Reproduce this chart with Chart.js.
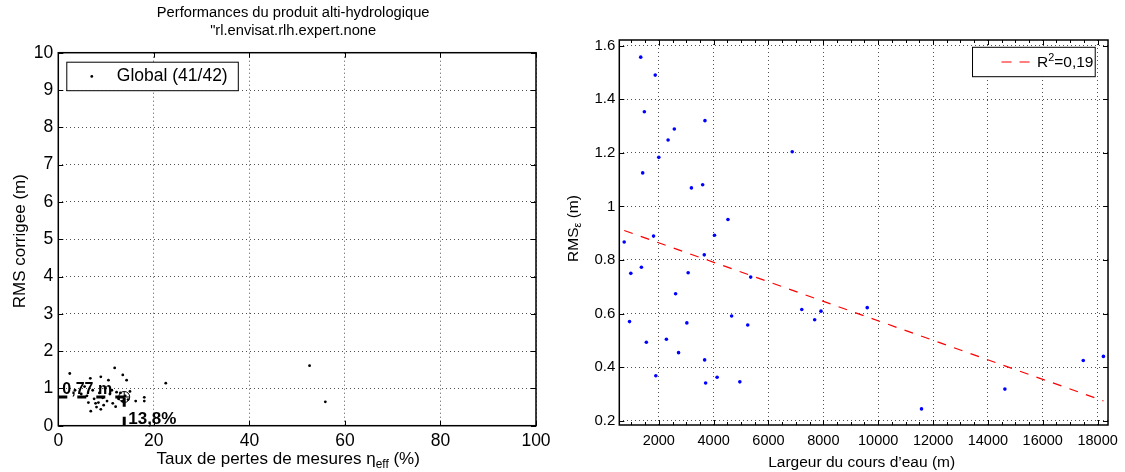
<!DOCTYPE html>
<html><head><meta charset="utf-8">
<script src="https://cdn.jsdelivr.net/npm/chart.js@4.4.0/dist/chart.umd.min.js"></script>
<style>
html,body{margin:0;padding:0;background:#fff;}
#wrap{position:relative;width:1125px;height:472px;overflow:hidden;background:#fff;}
#c1{position:absolute;left:0;top:0;}
#c2{position:absolute;left:560px;top:0;}
</style></head><body>
<div id="wrap">
<canvas id="c1" width="560" height="472" style="width:560px;height:472px"></canvas>
<canvas id="c2" width="565" height="472" style="width:565px;height:472px"></canvas>
</div>
<script>
// ---------- Left chart data ----------
const leftTitle1 = 'Performances du produit alti-hydrologique';
const leftTitle2 = '"rl.envisat.rlh.expert.none';
const leftLegend = 'Global (41/42)';
const lossRate = [2.4, 11.8, 6.7, 8.9, 10.5, 13.5, 14.3, 6.3, 8.4, 6.8, 8.9, 11.4, 12.0, 16.2, 18.0, 18.0, 22.5, 52.6, 55.9,
                  3.5, 4.8, 5.5, 6.0, 7.2, 7.5, 8.0, 8.6, 9.3, 9.8, 10.2, 10.8, 11.2, 12.2, 12.6, 13.0, 13.4, 14.0, 14.6, 15.0, 7.8, 9.5];
const rmsCorr  = [1.40, 1.55, 1.27, 1.31, 1.22, 1.36, 1.22, 0.62, 0.62, 0.39, 0.44, 0.60, 0.51, 0.66, 0.76, 0.66, 1.14, 1.61, 0.64,
                  0.95, 0.85, 1.05, 0.80, 0.95, 0.72, 0.50, 0.88, 0.75, 1.00, 0.66, 0.85, 0.95, 0.90, 0.72, 0.88, 0.66, 0.80, 0.70, 0.92, 0.60, 0.55];
const meanLoss = 13.8;
const meanRms = 0.77;
const meanRmsLabel = '0,77 m';
const meanLossLabel = '13,8%';
const leftXTicks = [0, 20, 40, 60, 80, 100];
const leftYTicks = [0, 1, 2, 3, 4, 5, 6, 7, 8, 9, 10];

// ---------- Right chart data ----------
const riverWidth = [1341, 1870, 1474, 3683, 2566, 2339, 2000, 1413, 6865, 3600, 3189, 4522, 739, 1809, 4032, 980, 1366, 3658, 3070, 5351,
                    2613, 933, 3023, 4656, 5243, 1546, 2277, 2721, 3672, 1892, 3708, 4126, 4955, 7214, 7684, 7914, 9600, 11579, 14620, 17477, 18213];
const rmsEps     = [1.557, 1.490, 1.353, 1.320, 1.289, 1.248, 1.183, 1.125, 1.204, 1.081, 1.069, 0.951, 0.867, 0.889, 0.892, 0.750, 0.773, 0.819, 0.752, 0.736,
                    0.674, 0.570, 0.565, 0.591, 0.557, 0.493, 0.504, 0.454, 0.427, 0.368, 0.341, 0.362, 0.345, 0.615, 0.577, 0.609, 0.622, 0.244, 0.318, 0.425, 0.440];
const fitX = [739, 18213];
const fitY = [0.910, 0.274];
const fitLabelMain = 'R';
const fitLabelSup = '2';
const fitLabelRest = '=0,19';
const rightXTicks = [2000, 4000, 6000, 8000, 10000, 12000, 14000, 16000, 18000];
const rightYTicks = [0.2, 0.4, 0.6, 0.8, 1.0, 1.2, 1.4, 1.6];
const rightXRange = [560, 18380];
const rightYRange = [0.184, 1.621];

// ---------- helpers ----------
const FONT = "'Liberation Sans', Arial, Helvetica, sans-serif";

function richText(ctx, segs, x, y, size, opt) {
  opt = opt || {};
  ctx.save();
  ctx.translate(x, y);
  if (opt.rot) ctx.rotate(opt.rot);
  ctx.textBaseline = 'middle';
  ctx.textAlign = 'left';
  ctx.fillStyle = '#000';
  const parts = segs.map(s => {
    const fs = (s.sub || s.sup) ? size * 0.7 : size;
    ctx.font = (s.bold ? 'bold ' : '') + fs + 'px ' + FONT;
    return {s, fs, w: ctx.measureText(s.t).width};
  });
  const total = parts.reduce((a, p) => a + p.w, 0);
  let cx = opt.align === 'left' ? 0 : -total / 2;
  parts.forEach(p => {
    ctx.font = (p.s.bold ? 'bold ' : '') + p.fs + 'px ' + FONT;
    const dy = p.s.sub ? size * 0.32 : (p.s.sup ? -size * 0.35 : 0);
    ctx.fillText(p.s.t, cx, dy);
    cx += p.w;
  });
  ctx.restore();
}

function frameAndTicks(chart, o) {
  const {ctx, chartArea: a} = chart;
  const xs = chart.scales.x, ys = chart.scales.y;
  ctx.save();
  ctx.strokeStyle = '#000';
  ctx.lineWidth = 1;
  ctx.beginPath();
  const L = o.tickLen;
  xs.ticks.forEach(t => {
    const p = Math.round(xs.getPixelForValue(t.value)) + 0.5;
    ctx.moveTo(p, a.bottom); ctx.lineTo(p, a.bottom - L);
    ctx.moveTo(p, a.top); ctx.lineTo(p, a.top + L);
  });
  ys.ticks.forEach(t => {
    const p = Math.round(ys.getPixelForValue(t.value)) + 0.5;
    ctx.moveTo(a.left, p); ctx.lineTo(a.left + L, p);
    ctx.moveTo(a.right, p); ctx.lineTo(a.right - L, p);
  });
  if (o.minorX) {
    const st = o.minorX;
    for (let v = Math.ceil(xs.min / st) * st; v <= xs.max; v += st) {
      const p = Math.round(xs.getPixelForValue(v)) + 0.5;
      ctx.moveTo(p, a.bottom); ctx.lineTo(p, a.bottom - 3);
      ctx.moveTo(p, a.top); ctx.lineTo(p, a.top + 3);
    }
  }
  ctx.stroke();
  ctx.lineWidth = o.frameWidth;
  ctx.strokeRect(a.left, a.top, a.right - a.left, a.bottom - a.top);
  ctx.restore();
}

const gridCfg = {color: '#505050', lineWidth: 1, drawTicks: false};
const borderCfg = {display: false, dash: [1, 3]};

// ---------- Left chart ----------
const leftPlugin = {
  id: 'leftDecor',
  afterDatasetsDraw(chart) {
    const {ctx} = chart;
    const xs = chart.scales.x, ys = chart.scales.y;
    ctx.save();
    ctx.fillStyle = '#000';
    ctx.textAlign = 'left';
    ctx.textBaseline = 'alphabetic';
    ctx.font = 'bold 16px ' + FONT;
    ctx.fillText(meanRmsLabel, xs.getPixelForValue(0) + 4, ys.getPixelForValue(meanRms) - 3);
    ctx.font = 'bold 17px ' + FONT;
    ctx.fillText(meanLossLabel, xs.getPixelForValue(meanLoss) + 4, ys.getPixelForValue(0) - 2);
    ctx.restore();
  },
  afterDraw(chart) {
    const {ctx, chartArea: a} = chart;
    frameAndTicks(chart, {tickLen: 5, frameWidth: 1.5});
    const cx = (a.left + a.right) / 2;
    // title
    richText(ctx, [{t: leftTitle1}], cx - 4, 13, 14.7);
    richText(ctx, [{t: leftTitle2}], cx - 4, 31, 14.7);
    // axis titles
    richText(ctx, [{t: 'Taux de pertes de mesures η'}, {t: 'eff', sub: true}, {t: ' (%)'}], cx - 9, a.bottom + 34, 17);
    richText(ctx, [{t: 'RMS corrigee (m)'}], a.left - 38, (a.top + a.bottom) / 2 + 2, 17, {rot: -Math.PI / 2});
    // legend
    const bx = a.left + 8.5, by = a.top + 9.5, bw = 171.5, bh = 28.5;
    ctx.save();
    ctx.fillStyle = '#fff';
    ctx.fillRect(bx, by, bw, bh);
    ctx.strokeStyle = '#000';
    ctx.lineWidth = 1;
    ctx.strokeRect(bx, by, bw, bh);
    ctx.fillStyle = '#000';
    ctx.beginPath();
    ctx.arc(bx + 25, by + bh / 2, 1.4, 0, Math.PI * 2);
    ctx.fill();
    ctx.restore();
    richText(ctx, [{t: leftLegend}], bx + 50, by + bh / 2, 17.5, {align: 'left'});
  }
};

new Chart(document.getElementById('c1'), {
  type: 'scatter',
  data: {
    datasets: [
      {
        label: 'meanMarkCircle',
        data: [{x: meanLoss, y: meanRms}],
        pointStyle: 'circle', pointRadius: 5.5, borderColor: '#000', borderWidth: 1, backgroundColor: 'rgba(0,0,0,0)'
      },
      {
        label: 'meanMarkCross',
        data: [{x: meanLoss, y: meanRms}],
        pointStyle: 'cross', pointRadius: 5.5, borderColor: '#000', borderWidth: 1
      },
      {
        label: 'meanH',
        data: [{x: 0, y: meanRms}, {x: meanLoss, y: meanRms}],
        showLine: true, borderColor: '#000', borderWidth: 3, borderDash: [9, 10], pointRadius: 0
      },
      {
        label: 'meanV',
        data: [{x: meanLoss, y: 0}, {x: meanLoss, y: meanRms}],
        showLine: true, borderColor: '#000', borderWidth: 3, borderDash: [9, 10], pointRadius: 0
      },
      {
        label: leftLegend,
        data: lossRate.map((v, i) => ({x: v, y: rmsCorr[i]})),
        pointRadius: 1.4, pointBackgroundColor: '#000', pointBorderWidth: 0, borderColor: '#000'
      }
    ]
  },
  options: {
    responsive: false, animation: false, devicePixelRatio: 1,
    layout: {padding: {left: 0, right: 24, top: 52.7, bottom: 0}},
    plugins: {legend: {display: false}, tooltip: {enabled: false}},
    scales: {
      x: {
        type: 'linear', min: 0, max: 100,
        afterBuildTicks: s => { s.ticks = leftXTicks.map(v => ({value: v})); },
        afterFit: s => { s.height = 46.3; },
        grid: gridCfg, border: borderCfg,
        ticks: {padding: 5, color: '#000', font: {family: FONT, size: 17.5}, maxRotation: 0, autoSkip: false}
      },
      y: {
        type: 'linear', min: 0, max: 10,
        afterBuildTicks: s => { s.ticks = leftYTicks.map(v => ({value: v})); },
        afterFit: s => { s.width = 58.3; },
        grid: gridCfg, border: borderCfg,
        ticks: {padding: 5, color: '#000', font: {family: FONT, size: 17.5}, autoSkip: false}
      }
    }
  },
  plugins: [leftPlugin]
});

// ---------- Right chart ----------
const rightPlugin = {
  id: 'rightDecor',
  afterDraw(chart) {
    const {ctx, chartArea: a} = chart;
    frameAndTicks(chart, {tickLen: 5, frameWidth: 1.5, minorX: 500});
    const cx = (a.left + a.right) / 2;
    richText(ctx, [{t: 'Largeur du cours d\u2019eau (m)'}], cx - 2, a.bottom + 38, 15.5);
    richText(ctx, [{t: 'RMS'}, {t: 'ε', sub: true}, {t: ' (m)'}], a.left - 46, (a.top + a.bottom) / 2 - 4, 15.5, {rot: -Math.PI / 2});
    // legend
    const bw = 122.7, bh = 29.4;
    const bx = a.right - 12.8 - bw, by = a.top + 7.3;
    ctx.save();
    ctx.fillStyle = '#fff';
    ctx.fillRect(bx, by, bw, bh);
    ctx.strokeStyle = '#000';
    ctx.lineWidth = 1;
    ctx.strokeRect(bx, by, bw, bh);
    ctx.strokeStyle = '#ff0000';
    ctx.lineWidth = 1.2;
    ctx.setLineDash([10, 8]);
    ctx.beginPath();
    ctx.moveTo(bx + 29, by + bh / 2);
    ctx.lineTo(bx + 57, by + bh / 2);
    ctx.stroke();
    ctx.restore();
    richText(ctx, [{t: fitLabelMain}, {t: fitLabelSup, sup: true}, {t: fitLabelRest}], bx + 64.5, by + bh / 2 + 1, 15.5, {align: 'left'});
  }
};

new Chart(document.getElementById('c2'), {
  type: 'scatter',
  data: {
    datasets: [
      {
        label: 'points',
        data: riverWidth.map((v, i) => ({x: v, y: rmsEps[i]})),
        pointRadius: 1.8, pointBackgroundColor: '#0000ff', pointBorderWidth: 0, borderColor: '#0000ff'
      },
      {
        label: 'fit',
        data: fitX.map((v, i) => ({x: v, y: fitY[i]})),
        showLine: true, borderColor: '#ff0000', borderWidth: 1.2, borderDash: [9, 8.5], pointRadius: 0
      }
    ]
  },
  options: {
    responsive: false, animation: false, devicePixelRatio: 1,
    layout: {padding: {left: 0, right: 11.5, top: 40, bottom: 0}},
    plugins: {legend: {display: false}, tooltip: {enabled: false}},
    scales: {
      x: {
        type: 'linear', min: rightXRange[0], max: rightXRange[1],
        afterBuildTicks: s => { s.ticks = rightXTicks.map(v => ({value: v})); },
        afterFit: s => { s.height = 47; },
        grid: gridCfg, border: borderCfg,
        ticks: {padding: 7, color: '#000', font: {family: FONT, size: 14.5}, maxRotation: 0, autoSkip: false,
                callback: v => String(v)}
      },
      y: {
        type: 'linear', min: rightYRange[0], max: rightYRange[1],
        afterBuildTicks: s => { s.ticks = rightYTicks.map(v => ({value: v})); },
        afterFit: s => { s.width = 59.3; },
        grid: gridCfg, border: borderCfg,
        ticks: {padding: 4, color: '#000', font: {family: FONT, size: 15}, autoSkip: false,
                callback: v => String(Math.round(v * 10) / 10)}
      }
    }
  },
  plugins: [rightPlugin]
});
</script>
</body></html>
